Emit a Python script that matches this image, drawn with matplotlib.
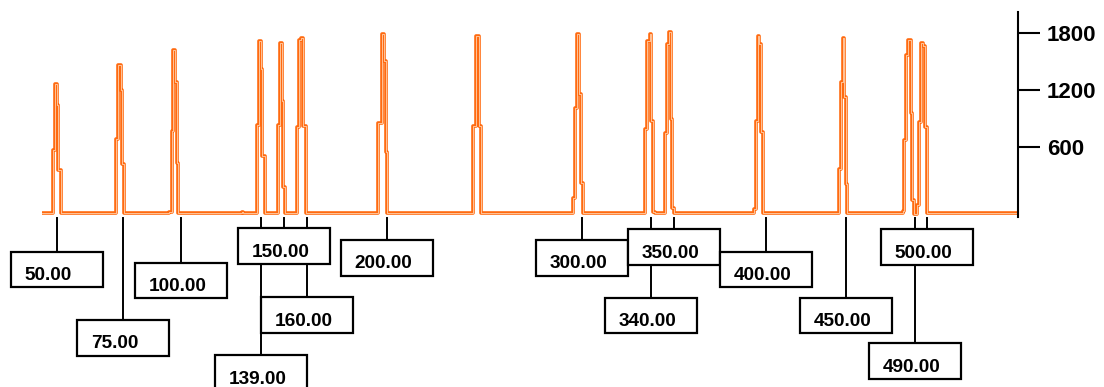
import matplotlib
matplotlib.use("Agg")
import matplotlib.pyplot as plt
import matplotlib.transforms as mtransforms
from matplotlib.lines import Line2D
from matplotlib.patches import Rectangle

plt.rcParams['font.family'] = ['Liberation Sans', 'DejaVu Sans']

# trace: each peak is a run of steps, edges in scan units, levels in signal units
baseline = -105
peak_edges = [
    [53.3, 55.0, 56.7, 58.3, 60.7],
    [116.0, 118.3, 120.7, 122.0, 124.3],
    [169.3, 171.7, 173.3, 175.0, 176.7, 178.3],
    [241.5, 243.0],
    [256.7, 259.0, 260.7, 262.3, 264.7],
    [277.7, 280.0, 281.7, 283.3, 285.0],
    [297.3, 299.0, 301.0, 303.3, 305.7],
    [378.3, 381.7, 384.0, 386.0, 387.3],
    [473.3, 475.7, 477.3, 479.3, 481.0],
    [572.7, 575.0, 577.3, 579.0, 580.7, 583.3],
    [645.3, 647.3, 650.0, 651.0, 653.3, 655.0],
    [665.0, 666.7, 669.0, 670.7, 672.3, 674.3],
    [754.0, 756.0, 757.7, 759.3, 761.0, 762.7],
    [839.0, 840.7, 842.7, 844.0, 845.7, 847.3],
    [902.7, 904.3, 906.0, 908.3, 910.7, 912.3, 914.3, 916.7, 918.7,
     920.7, 923.3, 925.0, 927.3],
]
peak_levels = [
    [564, 1262, 1040, 352],
    [677, 1463, 1199, 413],
    [-89, 765, 1622, 1287, 430],
    [-90],
    [828, 1720, 1418, 500],
    [828, 1700, 1086, 176],
    [811, 1728, 1746, 818],
    [853, 1791, 1509, 546],
    [818, 1770, 1765, 818],
    [59, 1005, 1791, 1156, 218],
    [783, 1720, 1791, 874, -89],
    [741, 1685, 1809, 892, -53],
    [-63, 874, 1770, 1682, 758],
    [360, 1287, 1746, 1128, 201],
    [-81, 670, 1569, 1728, 959, 35, -116, -18, 863, 1700, 1664, 811],
]

size_labels = ["50.00", "75.00", "100.00", "139.00", "150.00", "160.00", "200.00",
               "300.00", "340.00", "350.00", "400.00", "450.00", "490.00", "500.00"]
size_scan = [56.7, 123.3, 181.0, 261.0, 284.0, 306.7, 386.5,
             581.7, 651.0, 674.0, 766.0, 846.0, 915.0, 926.7]
# rows (pixels from top of figure) where each label box starts
box_top = [251.7, 320.0, 262.7, 355.0, 228.3, 297.3, 240.0,
           240.0, 297.7, 229.0, 251.7, 297.7, 343.3, 229.0]

xs = [42]
ys = [baseline]
for edges, levels in zip(peak_edges, peak_levels):
    for e, lv in zip(edges[:-1], levels):
        xs.append(e)
        ys.append(lv)
    xs.append(edges[-1])
    ys.append(baseline)
xs.append(1018)
ys.append(baseline)

W, H = 1104, 387
fig = plt.figure(figsize=(W / 100, H / 100), dpi=100)
ax = fig.add_axes([42 / W, (H - 216.7) / H, 976 / W, 205 / H])
ax.set_xlim(42, 1018)
ax.set_ylim(-142, 2027)

ax.plot(xs, ys, drawstyle='steps-post', color='#ff6a10', lw=2.6)
ax.plot(xs, ys, drawstyle='steps-post', color='#ffc49a', lw=0.7)

for side in ['left', 'top', 'bottom']:
    ax.spines[side].set_visible(False)
ax.spines['right'].set_linewidth(1.5)
ax.set_xticks([])
ax.yaxis.tick_right()
ax.set_yticks([600, 1200, 1800])
ax.tick_params(axis='y', length=15.8, width=1.5, pad=5, labelsize=16)
for t in ax.get_yticklabels():
    t.set_fontweight('bold')

pix = mtransforms.Affine2D().scale(1, -1).translate(0, H)
trans = mtransforms.blended_transform_factory(ax.transData, pix)
bw, bh = 92, 35.5
for lab, x, top in zip(size_labels, size_scan, box_top):
    ax.add_line(Line2D([x, x], [218, top], transform=trans, color='black',
                       lw=1.4, clip_on=False, zorder=3))
    ax.add_patch(Rectangle((x - bw / 2, top), bw, bh, transform=trans,
                           facecolor='white', edgecolor='black', lw=1.6,
                           clip_on=False, zorder=4))
    ax.text(x - bw / 2 + 14, top + bh - 7, lab, transform=trans, ha='left',
            va='baseline', fontsize=13.7, fontweight='bold', zorder=5,
            clip_on=False)

fig.savefig('out.png', dpi=100)
